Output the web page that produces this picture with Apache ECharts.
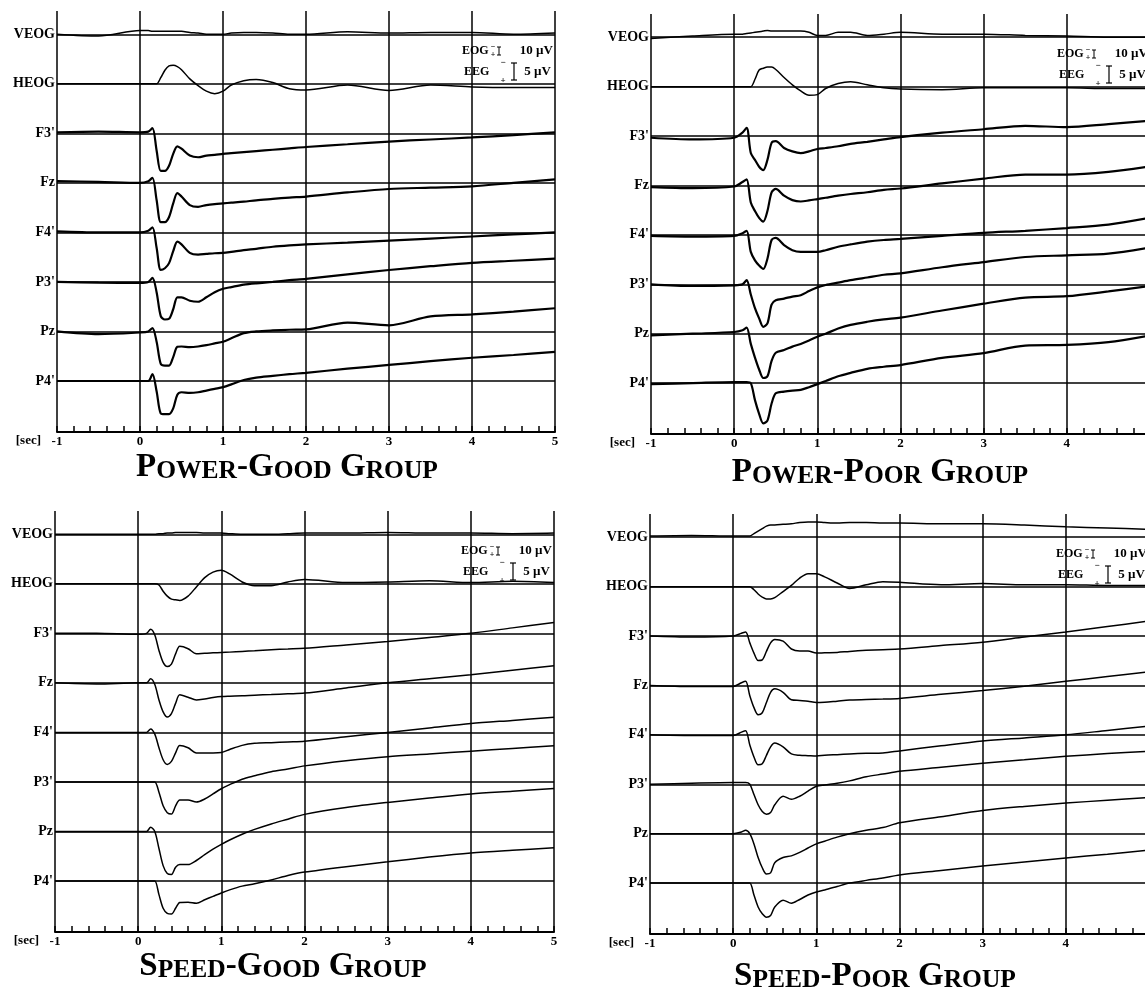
<!DOCTYPE html>
<html>
<head>
<meta charset="utf-8">
<script src="https://cdn.jsdelivr.net/npm/echarts@6/dist/echarts.min.js"></script>
<style>
  html, body { margin: 0; background: #fff; }
  #chart { width: 1145px; height: 992px; }
</style>
</head>
<body>
<div id="chart"></div>
<script>
// time points (sec) shared by every trace
const times = [-1, -0.5, 0, 0.1, 0.15, 0.2, 0.25, 0.3, 0.35, 0.4, 0.45, 0.5, 0.6, 0.7, 0.8, 0.9, 1.0, 1.1, 1.25, 1.4, 1.6, 1.8, 2.0, 2.5, 3.0, 3.5, 4.0, 4.5, 5.0]
const xTicks = [-1, 0, 1, 2, 3, 4, 5]
const channels = ['VEOG', 'HEOG', "F3'", 'Fz', "F4'", "P3'", 'Pz', "P4'"]

// amplitudes in µV, negative up (EOG rows in EOG µV)
const powerGoodVEOG = [0, 3, -6, -6, -5, -5, -5, -5, -5, -5, -5, -5, -3, -2, 0, 0, 0, -2, -3, -3, -2, 0, 0, -4, -2, -3, -3, 0, -2]
const powerGoodHEOG = [0, 0, 0, 0, 0, 0, -10, -22, -29, -30, -28, -23, -8, 3, 12, 16, 12, 2, -5, -7, -2, 8, 10, 2, 11, 2, 5, 6, 6]
const powerGoodF3 = [-0.3, -0.5, -0.3, -0.5, -1.5, 5, 11, 11, 9.5, 6, 3.8, 4.5, 6.5, 7, 6.5, 6.3, 6, 5.8, 5.5, 5.2, 4.8, 4.4, 4, 3.2, 2.4, 1.8, 1.2, 0.5, -0.3]
const powerGoodFz = [-0.5, -0.3, 0, -0.5, -1.5, 5, 11.5, 11.5, 10, 6, 3, 4, 6.5, 7, 6.5, 6.2, 6, 5.8, 5.5, 5.1, 4.7, 4.3, 4, 2.8, 1.8, 1.4, 1, 0, -1]
const powerGoodF4 = [-0.3, 0, 0, -0.5, -1.5, 4.5, 11, 10.5, 9, 5.5, 2.7, 3.5, 6, 6.5, 6.3, 6.1, 6, 5.7, 5.2, 4.8, 4.2, 3.8, 3.5, 3, 2.4, 1.8, 1.2, 0.6, 0]
const powerGoodP3 = [0, 0.2, 0.3, 0, -1.2, 3, 10, 11, 10.8, 8, 4.5, 4.5, 5.5, 5.8, 4.5, 3, 2, 1.5, 0.8, 0.4, 0, -0.5, -0.9, -2.2, -3.5, -4.6, -5.6, -6.2, -6.8]
const powerGoodPz = [0, 0.8, 0.3, 0, -1, 3, 9.5, 10, 10, 7.5, 4.5, 4.4, 4.6, 4.4, 4, 3.5, 3, 2, 0.5, 0, -0.3, -0.5, -0.6, -2.6, -1.8, -4.4, -5, -5.8, -6.8]
const powerGoodP4 = [0, 0, 0, 0, -2, 3, 9.5, 9.7, 9.7, 8, 4, 3.3, 3.5, 3.3, 2.8, 2.3, 1.8, 1, -0.3, -1, -1.5, -2, -2.4, -3.6, -4.7, -5.8, -6.8, -7.6, -8.5]

const powerPoorVEOG = [2, -2, -5, -5, -6, -7, -8, -9, -10, -11, -10, -10, -10, -10, -10, -8, -3, -3, -8, -8, -3, -5, -8, -5, -5, -3, -2, 0, 0]
const powerPoorHEOG = [0, 0, 0, 0, 0, 0, -12, -27, -30, -32, -32, -28, -15, -3, 7, 14, 13, 3, -5, -8, -3, 2, 4, 5, 2, 2, 2, 3, 3]
const powerPoorF3 = [0.5, 1, 0.5, -1, -2.4, 5, 7, 9, 10, 7, 2, 1.5, 3.5, 4.5, 5, 4.5, 3.8, 3.5, 3, 2.3, 1.7, 1, 0.3, -1, -2, -3, -2.6, -3.5, -4.5]
const powerPoorFz = [0.5, 0.8, 0.3, -1, -1.8, 5, 7.5, 9.5, 10.6, 7.5, 2, 1, 3, 4.3, 4.7, 4.4, 4, 3.6, 3, 2.5, 2, 1.3, 0.9, -0.6, -2, -3.2, -3.2, -4, -5.6]
const powerPoorF4 = [0.3, 0.5, 0.3, -0.5, -1.2, 5, 7.5, 9, 10, 7, 1.5, 0.9, 3, 4.5, 5, 5, 5, 4.5, 3.5, 2.8, 2, 1.5, 1.2, 0.3, -0.6, -1.2, -2, -3, -5]
const powerPoorP3 = [0, 0.5, 0.3, 0, -1.2, 3, 7, 10, 12.5, 11.5, 6, 4.7, 4.2, 3.6, 3.2, 2, 0.9, 0.2, -0.5, -1.2, -2, -2.8, -3.2, -5, -6.5, -8, -8.5, -9, -10.8]
const powerPoorPz = [0.5, 0, -0.5, -1, -1.8, 3, 7, 10.5, 13, 12.5, 8, 5.6, 4.8, 3.8, 3, 2, 0.9, 0, -1.5, -2.6, -3.5, -4.2, -4.7, -6.8, -8.8, -10.6, -11, -12.4, -14]
const powerPoorP4 = [0.3, 0, -0.3, -0.3, -0.3, 0, 5, 9, 11.8, 11, 6, 3, 2.5, 2.2, 2, 1.2, 0.3, -0.6, -2, -3, -4.2, -4.8, -5.3, -7.4, -8.8, -11, -11.2, -12, -14]

const speedGoodVEOG = [0, 0, 0, 0, 0, 0, -1, -1, -2, -2, -3, -3, -3, -3, -2, -2, -2, -1, 0, 0, 0, -1, -2, -2, -3, -2, -2, -1, -2]
const speedGoodHEOG = [0, 0, 0, 0, 0, 0, 2, 12, 20, 25, 26, 27, 20, 5, -10, -19, -22, -16, -3, 3, 3, -3, -7, -2, -3, -5, -2, -4, -2]
const speedGoodF3 = [0, 0, 0.3, 0, -1.2, 0.5, 5, 8.5, 9.7, 9, 6, 3.8, 4.5, 6, 5.8, 5.7, 5.6, 5.5, 5.3, 5.1, 4.8, 4.6, 4.4, 3.4, 2.4, 1.2, 0, -1.6, -3.2]
const speedGoodFz = [0, 0.3, 0, 0, -1.2, 0.5, 5, 8.5, 10, 9, 6, 3.5, 4.2, 5, 4.7, 4.3, 4, 3.9, 3.8, 3.6, 3.4, 3.2, 3, 1.5, 0, -1.2, -2.4, -3.7, -5]
const speedGoodF4 = [0, 0, 0, 0, -1, 0.5, 4.5, 8, 9.4, 8.5, 6, 3.8, 4.5, 6, 6, 6, 5.9, 5, 3.8, 3.2, 3, 2.8, 2.6, 1.3, 0, -1.3, -2.6, -3.5, -4.4]
const speedGoodP3 = [0, 0, 0, 0, 0, 0, 3, 7, 9, 9.4, 7, 5.3, 5.3, 5.9, 5, 3.5, 2, 0.8, -0.8, -1.8, -3, -3.8, -4.7, -6.2, -7.4, -8.2, -9, -9.8, -10.6]
const speedGoodPz = [0, 0, 0, 0, -1.2, 0, 5, 10, 12.3, 12.6, 10.5, 9.7, 9.7, 8.5, 6.8, 5.2, 3.8, 2.5, 0.8, -0.6, -2.2, -3.6, -5, -7, -8.5, -9.8, -11, -11.8, -12.6]
const speedGoodP4 = [0, 0, 0, 0, 0, 0, 4, 8, 9.5, 9.7, 8, 6.3, 6.2, 6.5, 5.5, 4.5, 3.5, 2.6, 1.5, 0.8, -0.3, -1.6, -2.6, -4.2, -5.6, -7, -8.2, -9, -9.7]

const speedPoorVEOG = [-2, -3, -2, -2, -2, -2, -6, -10, -14, -18, -20, -20, -21, -22, -24, -25, -25, -24, -23, -24, -24, -23, -23, -22, -22, -20, -17, -15, -13]
const speedPoorHEOG = [0, 0, 0, 0, 0, 0, 5, 12, 17, 20, 20, 18, 8, -2, -14, -21, -21, -16, -6, 3, -3, -8, -7, -3, -5, -3, -3, -2, -2]
const speedPoorF3 = [0, 0.3, 0, -0.8, -1.2, 2, 5, 7.2, 7, 4.5, 2, 1, 1.5, 3.8, 4.4, 4.4, 5, 4.9, 4.8, 4.5, 4.2, 4, 3.8, 2.8, 1.8, 0.3, -1.2, -2.8, -4.4]
const speedPoorFz = [0, 0.3, 0.3, -0.8, -1.2, 3, 6.5, 8.6, 8, 5, 2, 1, 2, 4.2, 4.4, 4.6, 5, 4.9, 4.6, 4.3, 4.1, 4, 3.8, 2.6, 1.5, 0.2, -1.2, -2.6, -4]
const speedPoorF4 = [0, 0.2, 0.2, -0.8, -1.2, 3, 6.5, 8.8, 8.5, 6, 3.5, 2.4, 3.5, 5.6, 6, 6.1, 6.2, 6, 5.8, 5.6, 5.4, 5.3, 4.7, 3.2, 1.8, 0.9, 0, -1.3, -2.6]
const speedPoorP3 = [0, -0.3, -0.5, -0.5, -0.5, 0, 3, 6, 8, 8.8, 8.3, 6, 3.5, 4.4, 3.5, 2, 0.6, 0.2, -0.3, -1, -2.2, -3, -3.8, -5, -6.2, -7.2, -8.2, -9, -9.7]
const speedPoorPz = [0, 0, 0, -0.5, -1, 0, 3, 7, 10, 11.8, 11.5, 8.5, 7, 6.5, 5.5, 4.2, 3, 2.2, 1, 0, -1, -1.8, -3.2, -5, -6.8, -8, -9, -9.8, -10.6]
const speedPoorP4 = [0, 0, 0, 0, 0, 0, 3.5, 7, 9, 10, 9.5, 7, 5, 5.9, 4.8, 3.5, 2.6, 2, 1, 0, -0.8, -1.5, -2.4, -3.7, -5, -6.2, -7.4, -8.5, -9.7]

const groups = [
  { name: 'Power-Good Group', traces: [powerGoodVEOG, powerGoodHEOG, powerGoodF3, powerGoodFz, powerGoodF4, powerGoodP3, powerGoodPz, powerGoodP4] },
  { name: 'Power-Poor Group', traces: [powerPoorVEOG, powerPoorHEOG, powerPoorF3, powerPoorFz, powerPoorF4, powerPoorP3, powerPoorPz, powerPoorP4] },
  { name: 'Speed-Good Group', traces: [speedGoodVEOG, speedGoodHEOG, speedGoodF3, speedGoodFz, speedGoodF4, speedGoodP3, speedGoodPz, speedGoodP4] },
  { name: 'Speed-Poor Group', traces: [speedPoorVEOG, speedPoorHEOG, speedPoorF3, speedPoorFz, speedPoorF4, speedPoorP3, speedPoorPz, speedPoorP4] }
]

// panel placement on the page
const frames = [
  { left: 57, top: 11, width: 498, height: 421, title: [287, 466], lw: 2.2 },
  { left: 651, top: 14, width: 499, height: 420, title: [880, 471], lw: 2.2 },
  { left: 55, top: 511, width: 499, height: 421, title: [283, 965], lw: 1.5 },
  { left: 650, top: 514, width: 499, height: 420, title: [875, 975], lw: 1.5 }
]

const ROW_UV = 14.5 // spacing between baselines, in EEG µV
const EOG_GAIN = 0.18 // EOG drawn at 10 µV per EEG ~1.8 µV
const SERIF = '"Liberation Serif", "Times New Roman", serif'

function smallCaps(str) {
  // upper case letters big, the rest small upper case
  let out = ''
  for (const ch of str) {
    if (ch === ' ' || ch === '-' || ch === ch.toUpperCase()) out += '{b|' + ch + '}'
    else out += '{s|' + ch.toUpperCase() + '}'
  }
  return out
}

function txt(x, y, text, size, align) {
  return {
    type: 'text', x, y, silent: true,
    style: {
      text, fill: '#000', fontFamily: SERIF, fontWeight: 'bold', fontSize: size,
      align: align || 'left', verticalAlign: 'middle',
      textAlign: align || 'left', textVerticalAlign: 'middle'
    }
  }
}

function seg(x1, y1, x2, y2, w) {
  return { type: 'line', silent: true, shape: { x1, y1, x2, y2 }, style: { stroke: '#000', lineWidth: w || 1 } }
}

function scaleKey(f) {
  return {
    type: 'group', x: f.left + f.width, y: f.top,
    children: [
      txt(-93, 40, 'EOG', 12),
      txt(-62, 36, '\u2212', 8, 'center'),
      txt(-62, 44, '+', 8, 'center'),
      seg(-56, 36, -56, 44, 1), seg(-58, 36, -54, 36, 1), seg(-58, 44, -54, 44, 1),
      txt(-2, 40, '10 \u00b5V', 13, 'right'),
      txt(-91, 61, 'EEG', 12),
      txt(-52, 52, '\u2212', 9, 'center'),
      txt(-52, 70, '+', 9, 'center'),
      seg(-41, 52, -41, 69, 1.2), seg(-44, 52, -38, 52, 1.2), seg(-44, 69, -38, 69, 1.2),
      txt(-4, 61, '5 \u00b5V', 13, 'right')
    ]
  }
}

const grid = [], xAxis = [], yAxis = [], series = [], graphic = []

frames.forEach((f, p) => {
  grid.push({ left: f.left, top: f.top, width: f.width, height: f.height, outerBoundsMode: 'none' })
  xAxis.push({
    gridIndex: p, type: 'value', position: 'bottom', min: xTicks[0], max: xTicks[xTicks.length - 1], interval: 1,
    name: '[sec]', nameLocation: 'start', nameGap: 16,
    nameTextStyle: { fontFamily: SERIF, fontWeight: 'bold', fontSize: 13, color: '#000', verticalAlign: 'top', padding: [2, 0, 0, 0] },
    axisLine: { show: true, onZero: false, lineStyle: { color: '#000', width: 2 } },
    axisTick: { show: true, inside: true, length: 6, lineStyle: { color: '#000', width: 1.5 } },
    minorTick: { show: true, splitNumber: 5, length: 6, lineStyle: { color: '#000', width: 1.5 } },
    splitLine: { show: true, lineStyle: { color: '#000', width: 1.5 } },
    axisLabel: { fontFamily: SERIF, fontWeight: 'bold', fontSize: 13, color: '#000', margin: 3 }
  })
  yAxis.push({
    gridIndex: p, type: 'value', inverse: true, show: false,
    min: -0.47 * ROW_UV, max: 8.03 * ROW_UV
  })

  groups[p].traces.forEach((vals, k) => {
    const base = k * ROW_UV
    const gain = k < 2 ? EOG_GAIN : 1
    series.push({
      type: 'line', xAxisIndex: p, yAxisIndex: p, name: channels[k],
      showSymbol: false, silent: true, smooth: 0.3,
      lineStyle: { color: '#000', width: k < 2 ? 1.5 : f.lw },
      data: times.map((t, i) => [t, base + vals[i] * gain]),
      markLine: {
        silent: true, symbol: ['none', 'none'], animation: false,
        lineStyle: { color: '#000', width: 1.6, type: 'solid' },
        label: {
          show: true, position: 'start', distance: 2, formatter: channels[k],
          fontFamily: SERIF, fontWeight: 'bold', fontSize: 14, color: '#000'
        },
        emphasis: { disabled: true },
        data: [{ yAxis: base }]
      }
    })
  })

  graphic.push(scaleKey(f))
  graphic.push({
    type: 'text', x: f.title[0], y: f.title[1], silent: true,
    style: {
      text: smallCaps(groups[p].name), fill: '#000',
      align: 'center', verticalAlign: 'middle', textAlign: 'center', textVerticalAlign: 'middle',
      rich: {
        b: { fontFamily: SERIF, fontWeight: 'bold', fontSize: 33, lineHeight: 36, verticalAlign: 'bottom' },
        s: { fontFamily: SERIF, fontWeight: 'bold', fontSize: 25.5, lineHeight: 36, verticalAlign: 'bottom' }
      }
    }
  })
})

const myChart = echarts.init(document.getElementById('chart'), null, { renderer: 'canvas' })
myChart.setOption({
  backgroundColor: '#fff',
  animation: false,
  grid, xAxis, yAxis, series, graphic
})
</script>
</body>
</html>
